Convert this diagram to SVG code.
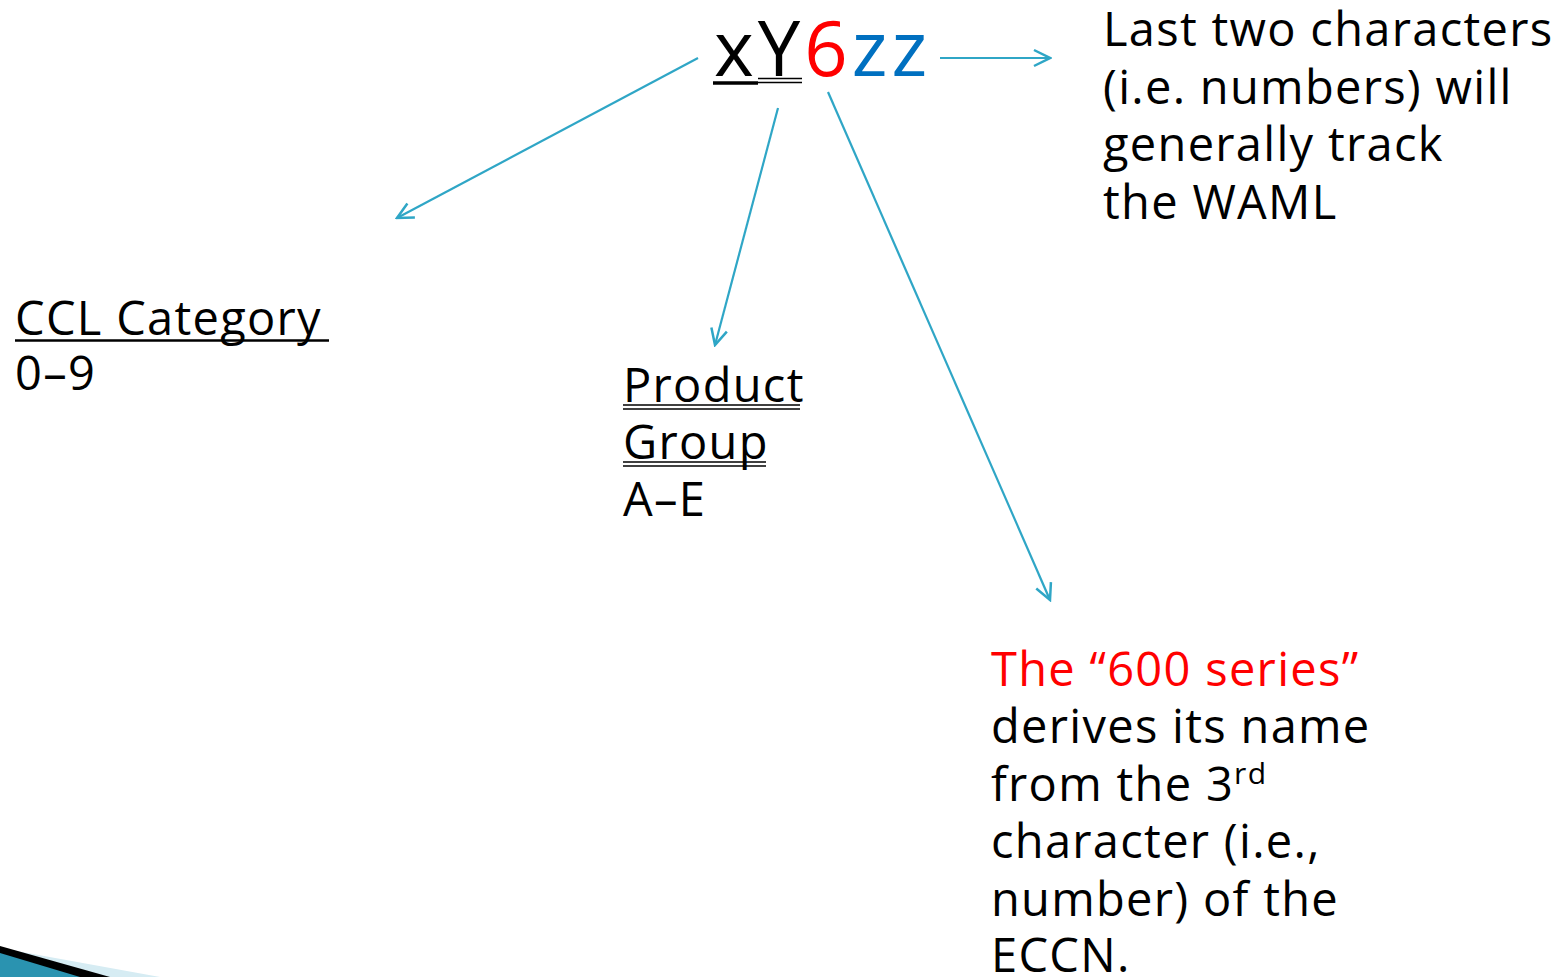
<svg xmlns="http://www.w3.org/2000/svg" width="1560" height="977" viewBox="0 0 1560 977">
<defs>
<marker id="arr" viewBox="0 0 20 20" refX="18" refY="10" markerWidth="20" markerHeight="20" markerUnits="userSpaceOnUse" orient="auto">
<path d="M2,2 L18,10 L2,18" fill="none" stroke="#2fa6c6" stroke-width="2.5"/>
</marker>
<style>
.t{font-family:"Open Sans","DejaVu Sans",sans-serif;font-size:47px;fill:#000;letter-spacing:1.3px}
.conn line{stroke:#2fa6c6;stroke-width:2.2;fill:none;marker-end:url(#arr)}
.ul{stroke:#000}
</style>
</defs>
<rect width="1560" height="977" fill="#fff"/>
<g id="decoration">
<polygon points="0,948 160,977 0,977" fill="#d6ecf3"/>
<polygon points="0,946 110,977 0,977" fill="#000"/>
<polygon points="0,953 80,977 0,977" fill="#2a93b0"/>
</g>
<g id="code">
<text x="714" y="76" font-family="Open Sans, DejaVu Sans, sans-serif" font-size="76" letter-spacing="4"><tspan fill="#000">xY</tspan><tspan fill="#ff0000">6</tspan><tspan fill="#0070c0">zz</tspan></text>
<line class="ul" x1="713" y1="83" x2="758" y2="83" stroke-width="3.5"/>
<line class="ul" x1="758" y1="78.5" x2="802" y2="78.5" stroke-width="1.6"/>
<line class="ul" x1="758" y1="82.5" x2="802" y2="82.5" stroke-width="1.6"/>
</g>
<g id="last-two">
<text class="t" x="1103" y="46">Last two characters</text>
<text class="t" x="1103" y="104">(i.e. numbers) will</text>
<text class="t" x="1103" y="161">generally track</text>
<text class="t" x="1103" y="219">the WAML</text>
</g>
<g id="ccl">
<text class="t" x="15" y="335" letter-spacing="2">CCL Category</text>
<line class="ul" x1="15" y1="340.5" x2="329" y2="340.5" stroke-width="2.5"/>
<text class="t" x="15" y="390">0–9</text>
</g>
<g id="product">
<text class="t" x="623" y="402" letter-spacing="0.8">Product</text>
<line class="ul" x1="623" y1="405" x2="800" y2="405" stroke-width="1.5"/>
<line class="ul" x1="623" y1="409" x2="800" y2="409" stroke-width="1.5"/>
<text class="t" x="623" y="459" letter-spacing="0.8">Group</text>
<line class="ul" x1="623" y1="462" x2="766" y2="462" stroke-width="1.5"/>
<line class="ul" x1="623" y1="466" x2="766" y2="466" stroke-width="1.5"/>
<text class="t" x="623" y="516">A–E</text>
</g>
<g id="series600">
<text class="t" x="991" y="686" style="fill:#ff0000">The “600 series”</text>
<text class="t" x="991" y="743">derives its name</text>
<text class="t" x="991" y="801">from the 3<tspan font-size="30" dy="-17">rd</tspan></text>
<text class="t" x="991" y="858">character (i.e.,</text>
<text class="t" x="991" y="916">number) of the</text>
<text class="t" x="991" y="972">ECCN.</text>
</g>
<g class="conn" id="connectors">
<line x1="698" y1="58" x2="397" y2="218"/>
<line x1="778" y1="108" x2="715" y2="345"/>
<line x1="828" y1="92" x2="1050" y2="600"/>
<line x1="940" y1="58" x2="1050" y2="58"/>
</g>
</svg>
